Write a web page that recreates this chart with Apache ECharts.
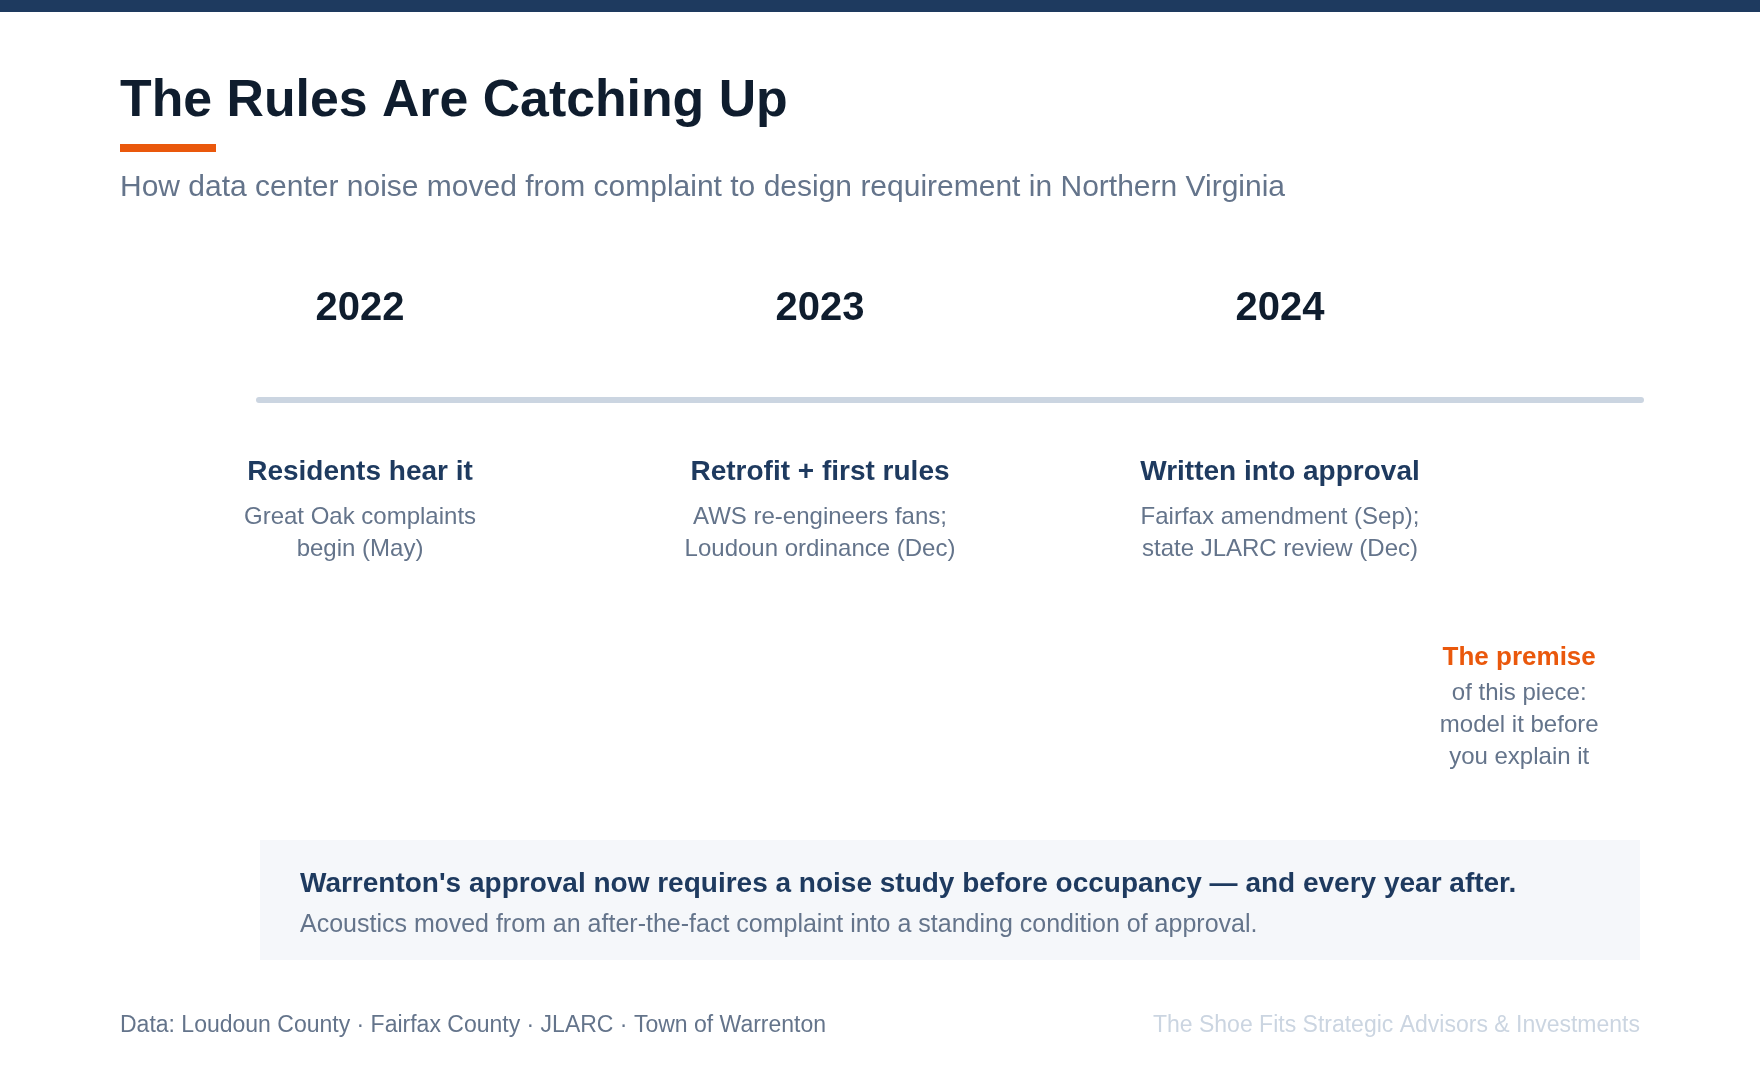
<!DOCTYPE html>
<html>
<head>
<meta charset="utf-8">
<title>The Rules Are Catching Up</title>
<script src="https://cdn.jsdelivr.net/npm/echarts@6/dist/echarts.min.js"></script>
<style>
  html, body { margin: 0; padding: 0; background: #fff; }
  #chart { width: 1760px; height: 1080px; }
</style>
</head>
<body>
<div id="chart"></div>
<script>
// timeline content
var years = ['2022', '2023', '2024'];
var yearValues = [2022, 2023, 2024];
var headings = ['Residents hear it', 'Retrofit + first rules', 'Written into approval'];
var details = [
	['Great Oak complaints', 'begin (May)'],
	['AWS re-engineers fans;', 'Loudoun ordinance (Dec)'],
	['Fairfax amendment (Sep);', 'state JLARC review (Dec)']
];
var premiseValue = 2024.52;
var premiseTitle = 'The premise';
var premiseLines = ['of this piece:', 'model it before', 'you explain it'];
var axisStart = 2021.7804;
var axisEnd = 2024.7848;

var calloutTitle = "Warrenton's approval now requires a noise study before occupancy \u2014 and every year after.";
var calloutText = 'Acoustics moved from an after-the-fact complaint into a standing condition of approval.';
var sourceText = 'Data: Loudoun County \u00b7 Fairfax County \u00b7 JLARC \u00b7 Town of Warrenton';
var creditText = 'The Shoe Fits Strategic Advisors & Investments';

var FONT = '"Liberation Sans", Arial, Helvetica, sans-serif';
var NAVY = '#1e3a5f', INK = '#0f1d2e', SLATE = '#64748b', ORANGE = '#ea580c', PALE = '#cbd5e1';

// invisible anchor points: only their labels show
var anchorStyle = { color: 'rgba(0,0,0,0)', opacity: 1 };

var chart = echarts.init(document.getElementById('chart'));

chart.setOption({
	animation: false,
	backgroundColor: '#fff',
	textStyle: { fontFamily: FONT },
	title: {
		left: 120,
		top: 71.3,
		padding: 0,
		itemGap: 38.6,
		text: 'The Rules Are Catching Up',
		textStyle: { fontFamily: FONT, fontSize: 51.8, fontWeight: 'bold', color: INK, lineHeight: 60 },
		subtext: 'How data center noise moved from complaint to design requirement in Northern Virginia',
		subtextStyle: { fontFamily: FONT, fontSize: 30, color: SLATE, lineHeight: 36 }
	},
	grid: { left: 259, right: 119, top: 200, bottom: 480 },
	xAxis: {
		type: 'value',
		min: axisStart,
		max: axisEnd,
		axisLine: { show: true, onZero: true, lineStyle: { color: PALE, width: 6 } },
		axisTick: { show: false },
		axisLabel: { show: false },
		splitLine: { show: false }
	},
	yAxis: {
		type: 'value',
		min: -1,
		max: 1,
		show: false
	},
	series: [
		{
			name: 'years',
			type: 'scatter',
			silent: true,
			symbolSize: 1,
			itemStyle: anchorStyle,
			data: yearValues.map(function (v) { return [v, 0]; }),
			label: {
				show: true,
				position: 'top',
				distance: 70.8,
				fontFamily: FONT,
				fontSize: 40,
				fontWeight: 'bold',
				lineHeight: 40,
				color: INK,
				opacity: 1,
				formatter: function (p) { return years[p.dataIndex]; }
			}
		},
		{
			name: 'events',
			type: 'scatter',
			silent: true,
			symbolSize: 1,
			itemStyle: anchorStyle,
			data: yearValues.map(function (v) { return [v, 0]; }),
			label: {
				show: true,
				position: 'bottom',
				distance: 43.2,
				align: 'center',
				opacity: 1,
				formatter: function (p) {
					var i = p.dataIndex;
					return '{h|' + headings[i] + '}\n' + details[i].map(function (s) { return '{d|' + s + '}'; }).join('\n');
				},
				rich: {
					h: { fontFamily: FONT, fontSize: 28, fontWeight: 'bold', color: NAVY, lineHeight: 58, align: 'center' },
					d: { fontFamily: FONT, fontSize: 24, color: SLATE, lineHeight: 32, align: 'center' }
				}
			}
		},
		{
			name: 'premise',
			type: 'scatter',
			silent: true,
			symbolSize: 1,
			itemStyle: anchorStyle,
			data: [[premiseValue, 0]],
			label: {
				show: true,
				position: 'bottom',
				distance: 237.2,
				align: 'center',
				opacity: 1,
				formatter: function () {
					return '{p|' + premiseTitle + '}\n' + premiseLines.map(function (s) { return '{d|' + s + '}'; }).join('\n');
				},
				rich: {
					p: { fontFamily: FONT, fontSize: 26, fontWeight: 'bold', color: ORANGE, lineHeight: 39.4, align: 'center' },
					d: { fontFamily: FONT, fontSize: 24, color: SLATE, lineHeight: 32, align: 'center' }
				}
			}
		}
	],
	graphic: [
		// top band
		{ type: 'rect', left: 0, top: 0, shape: { width: 1760, height: 12 }, style: { fill: NAVY }, silent: true },
		// accent under title
		{ type: 'rect', left: 120, top: 144, shape: { width: 96, height: 8 }, style: { fill: ORANGE }, silent: true },
		// callout box
		{
			type: 'group', left: 260, top: 840, silent: true,
			children: [
				{ type: 'rect', shape: { width: 1380, height: 120 }, style: { fill: '#f5f7fa' } },
				{ type: 'text', x: 40, y: 44.5, style: { text: calloutTitle, font: 'bold 28px ' + FONT, fill: NAVY, verticalAlign: 'middle' } },
				{ type: 'text', x: 40, y: 85, style: { text: calloutText, font: '25px ' + FONT, fill: SLATE, verticalAlign: 'middle' } }
			]
		},
		// footer
		{ type: 'text', x: 120, y: 1025.9, silent: true, style: { text: sourceText, font: '23px ' + FONT, fill: SLATE, verticalAlign: 'middle' } },
		{ type: 'text', x: 1640, y: 1025.9, silent: true, style: { text: creditText, font: '23px ' + FONT, fill: PALE, align: 'right', verticalAlign: 'middle' } }
	]
});
</script>
</body>
</html>
